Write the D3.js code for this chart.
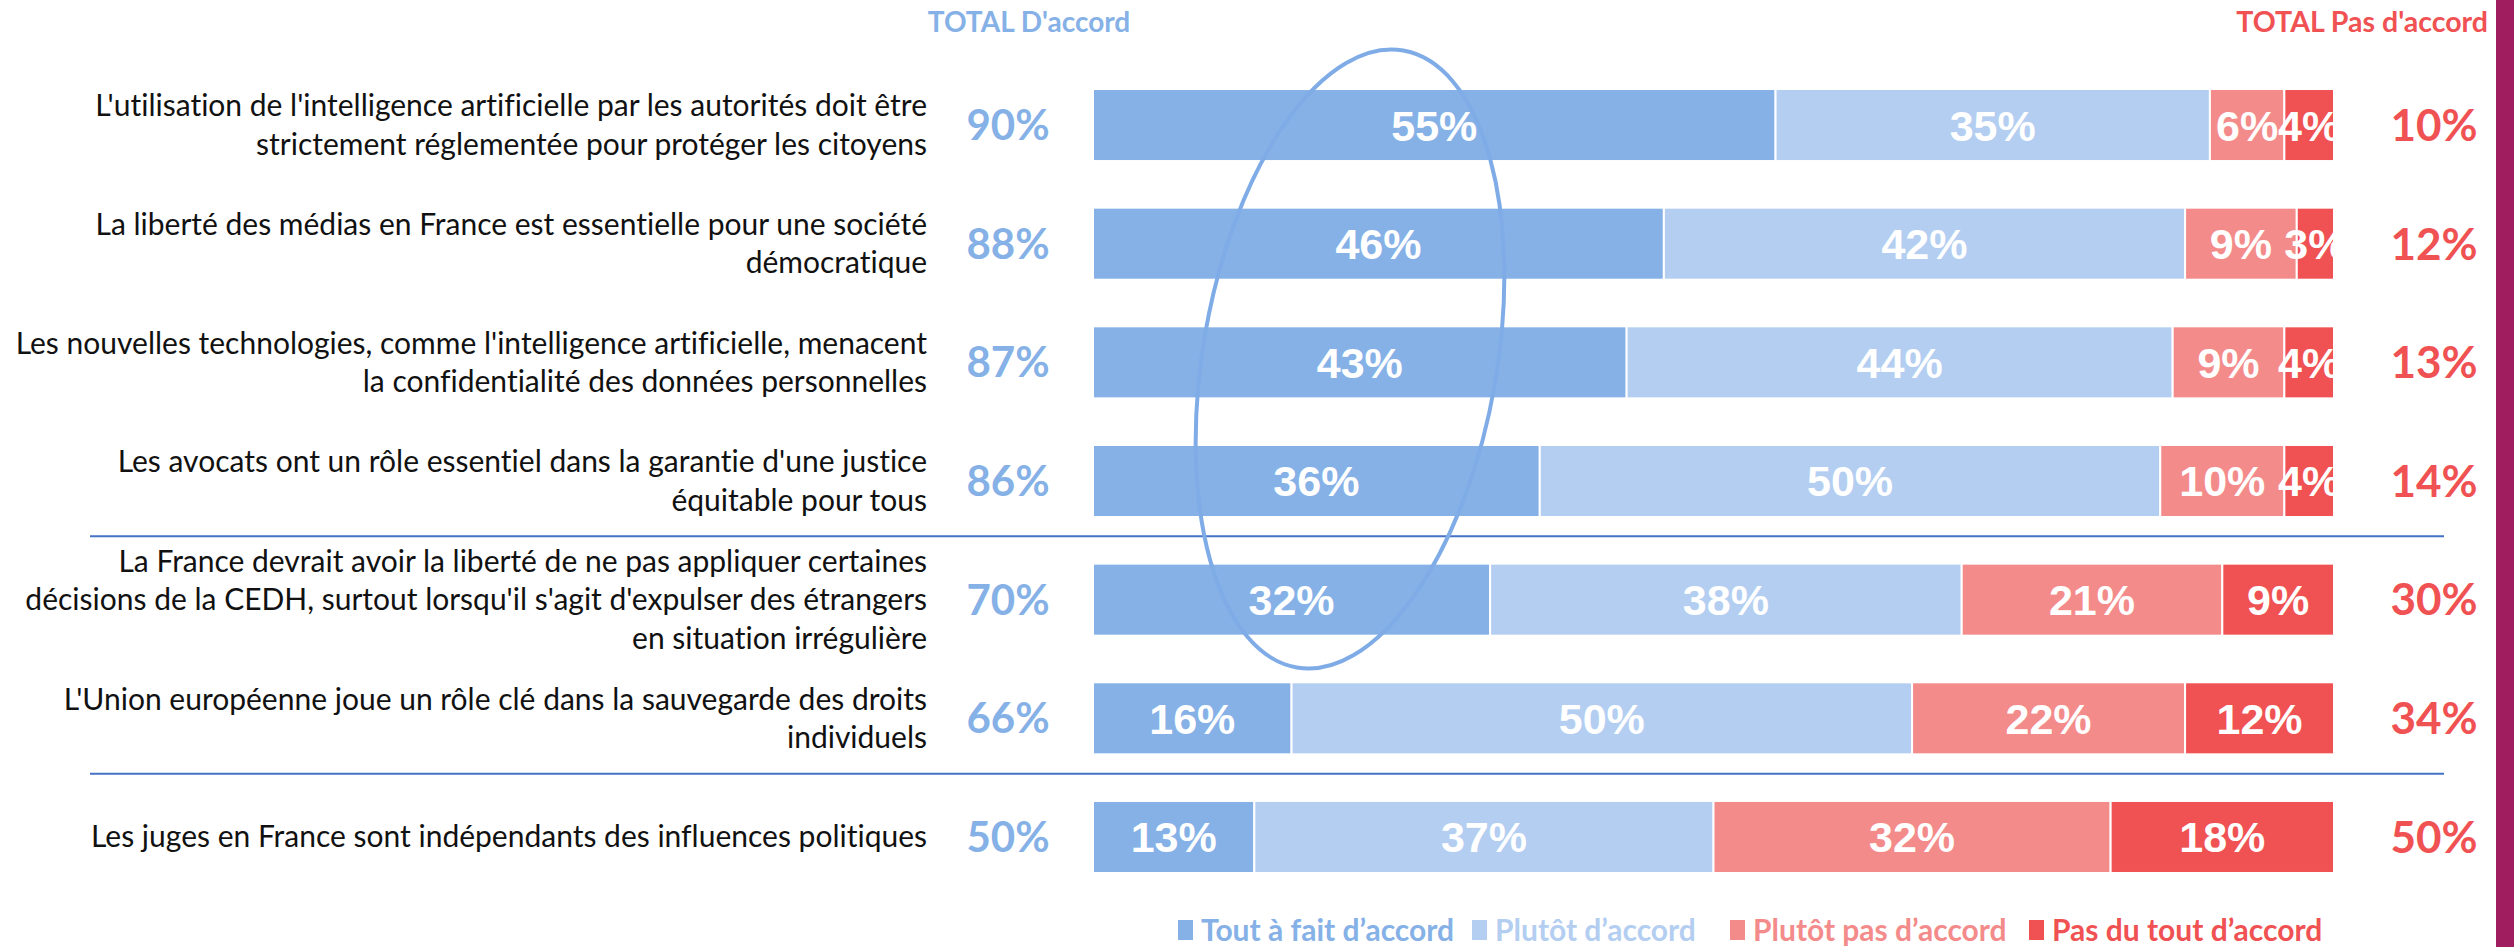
<!DOCTYPE html>
<html>
<head>
<meta charset="utf-8">
<script src="https://cdn.jsdelivr.net/npm/d3@7"></script>
<style>
  html, body { margin: 0; padding: 0; background: #fff; }
  svg { display: block; }
  text { font-variant-ligatures: none; font-feature-settings: "liga" 0; }
</style>
</head>
<body>
<svg id="chart"></svg>
<script>
// statements, one per row (line breaks as in the original slide)
const statements = [
  ["L'utilisation de l'intelligence artificielle par les autorités doit être", "strictement réglementée pour protéger les citoyens"],
  ["La liberté des médias en France est essentielle pour une société", "démocratique"],
  ["Les nouvelles technologies, comme l'intelligence artificielle, menacent", "la confidentialité des données personnelles"],
  ["Les avocats ont un rôle essentiel dans la garantie d'une justice", "équitable pour tous"],
  ["La France devrait avoir la liberté de ne pas appliquer certaines", "décisions de la CEDH, surtout lorsqu'il s'agit d'expulser des étrangers", "en situation irrégulière"],
  ["L'Union européenne joue un rôle clé dans la sauvegarde des droits", "individuels"],
  ["Les juges en France sont indépendants des influences politiques"]
];

const series = ["Tout à fait d’accord", "Plutôt d’accord", "Plutôt pas d’accord", "Pas du tout d’accord"];

const toutAFait   = [55, 46, 43, 36, 32, 16, 13];
const plutot      = [35, 42, 44, 50, 38, 50, 37];
const plutotPas   = [6, 9, 9, 10, 21, 22, 32];
const pasDuTout   = [4, 3, 4, 4, 9, 12, 18];

const totalAccord    = [90, 88, 87, 86, 70, 66, 50];
const totalPasAccord = [10, 12, 13, 14, 30, 34, 50];

const headers = ["TOTAL D'accord", "TOTAL Pas d'accord"];

// rows after which a separator line is drawn
const separatorsAfter = [3, 5];

const colors = ["#85B1E7", "#B3CEF1", "#F48B8B", "#F05152"];

const W = 2514, H = 947;
const svg = d3.select("#chart").attr("width", W).attr("height", H);

const rows = d3.range(statements.length);
const values = [toutAFait, plutot, plutotPas, pasDuTout];

const x = d3.scaleLinear().domain([0, 100]).range([1093, 2334]);
const y = d3.scaleBand()
  .domain(rows)
  .range([65.7, 896.3])
  .paddingInner(0.393)
  .paddingOuter(0.1965);

const stackData = rows.map(i => {
  const o = {row: i};
  series.forEach((s, k) => o[s] = values[k][i]);
  return o;
});
const stacked = d3.stack().keys(series)(stackData);

const labelFont = "Lato, 'Open Sans', sans-serif";
const barFont = "'Liberation Sans', Arial, sans-serif";

// separators
svg.append("g")
  .selectAll("line")
  .data(separatorsAfter)
  .join("line")
  .attr("x1", 90)
  .attr("x2", 2444)
  .attr("y1", d => y(d) + y.bandwidth() + (y.step() - y.bandwidth()) / 2 - 4)
  .attr("y2", d => y(d) + y.bandwidth() + (y.step() - y.bandwidth()) / 2 - 4)
  .attr("stroke", "#4472C4")
  .attr("stroke-width", 2);

// bars
const layer = svg.append("g")
  .selectAll("g")
  .data(stacked)
  .join("g")
  .attr("fill", (d, k) => colors[k]);

layer.selectAll("rect")
  .data(d => d)
  .join("rect")
  .attr("x", d => x(d[0]))
  .attr("width", d => x(d[1]) - x(d[0]))
  .attr("y", d => y(d.data.row))
  .attr("height", y.bandwidth())
  .attr("stroke", "#fff")
  .attr("stroke-width", 2);

layer.selectAll("text")
  .data(d => d.map(v => ({v, key: d.key})))
  .join("text")
  .attr("x", d => (x(d.v[0]) + x(d.v[1])) / 2)
  .attr("y", d => y(d.v.data.row) + y.bandwidth() / 2)
  .attr("dy", "0.36em")
  .attr("text-anchor", "middle")
  .attr("fill", "#fff")
  .attr("font-family", barFont)
  .attr("font-weight", "bold")
  .attr("font-size", 43)
  .text(d => (d.v[1] - d.v[0]) + "%");

// statement labels
const lineH = 38.5;
svg.append("g")
  .selectAll("text")
  .data(statements)
  .join("text")
  .attr("font-family", labelFont)
  .attr("font-size", 30)
  .attr("fill", "#111")
  .attr("text-anchor", "end")
  .each(function(lines, i) {
    const cy = y(i) + y.bandwidth() / 2;
    d3.select(this).selectAll("tspan")
      .data(lines)
      .join("tspan")
      .attr("x", 927)
      .attr("y", (l, j) => cy + (j - (lines.length - 1) / 2) * lineH)
      .attr("dy", "0.35em")
      .text(l => l);
  });

// totals
svg.append("g")
  .selectAll("text")
  .data(totalAccord)
  .join("text")
  .attr("x", 1008)
  .attr("y", (d, i) => y(i) + y.bandwidth() / 2)
  .attr("dy", "0.36em")
  .attr("text-anchor", "middle")
  .attr("font-family", labelFont)
  .attr("font-weight", "bold")
  .attr("font-size", 42)
  .attr("fill", colors[0])
  .text(d => d + "%");

svg.append("g")
  .selectAll("text")
  .data(totalPasAccord)
  .join("text")
  .attr("x", 2434)
  .attr("y", (d, i) => y(i) + y.bandwidth() / 2)
  .attr("dy", "0.36em")
  .attr("text-anchor", "middle")
  .attr("font-family", labelFont)
  .attr("font-weight", "bold")
  .attr("font-size", 44)
  .attr("fill", colors[3])
  .text(d => d + "%");

// column headers
svg.append("text")
  .attr("x", 1029).attr("y", 22).attr("dy", "0.35em")
  .attr("text-anchor", "middle")
  .attr("font-family", labelFont).attr("font-weight", "bold").attr("font-size", 28)
  .attr("fill", colors[0])
  .text(headers[0]);

svg.append("text")
  .attr("x", 2488).attr("y", 22).attr("dy", "0.35em")
  .attr("text-anchor", "end")
  .attr("font-family", labelFont).attr("font-weight", "bold").attr("font-size", 28.5)
  .attr("fill", colors[3])
  .text(headers[1]);

// highlight ellipse round the "Tout à fait d'accord" column
svg.append("ellipse")
  .attr("cx", 0).attr("cy", 0)
  .attr("rx", 147).attr("ry", 313)
  .attr("transform", "translate(1350,359) rotate(9.8)")
  .attr("fill", "none")
  .attr("stroke", "#7FACE6")
  .attr("stroke-width", 4);

// legend
const legendX = [1178, 1472, 1730, 2029];
const legend = svg.append("g")
  .selectAll("g")
  .data(series)
  .join("g")
  .attr("transform", (d, k) => `translate(${legendX[k]},930)`);

legend.append("rect")
  .attr("x", 0).attr("y", -10)
  .attr("width", 15).attr("height", 20)
  .attr("fill", (d, k) => colors[k]);

legend.append("text")
  .attr("x", 23).attr("dy", "0.35em")
  .attr("font-family", labelFont).attr("font-weight", "bold").attr("font-size", 30)
  .attr("fill", (d, k) => colors[k])
  .text(d => d);

// magenta edge band
svg.append("rect")
  .attr("x", 2496).attr("y", 0)
  .attr("width", W - 2496).attr("height", H)
  .attr("fill", "#A01E5F");
</script>
</body>
</html>
